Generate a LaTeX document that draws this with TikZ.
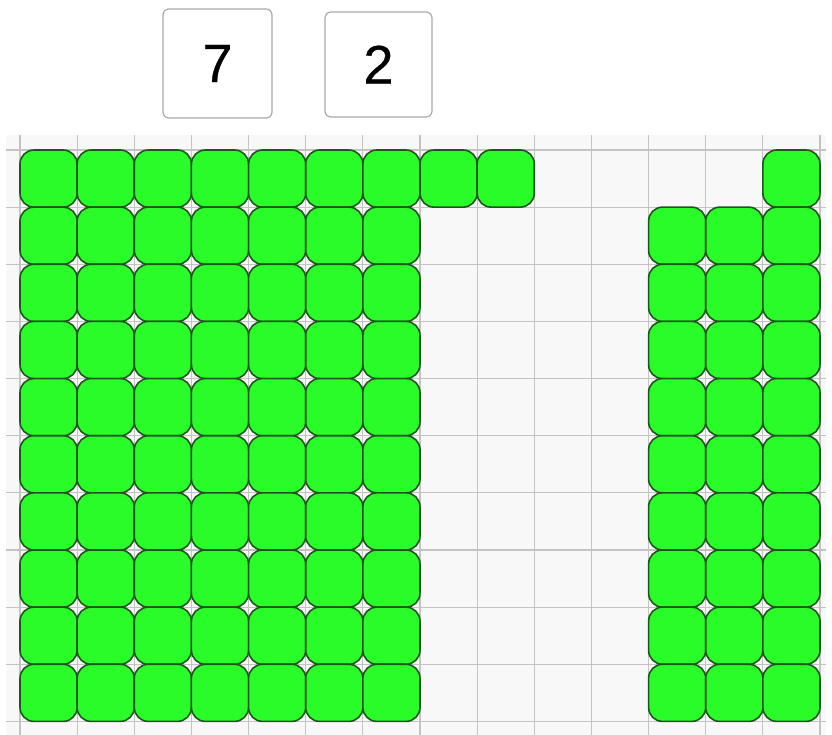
\documentclass[tikz,border=0pt]{standalone}
\usepackage{fontspec}
\setmainfont{Liberation Sans}
\definecolor{tilefill}{RGB}{42,252,42}
\definecolor{tileline}{RGB}{30,85,30}
\definecolor{gridbg}{RGB}{248,248,248}
\definecolor{gridline}{RGB}{195,195,195}
\definecolor{cardline}{RGB}{170,170,170}
\tikzset{
  tile/.style={fill=tilefill,draw=tileline,line width=1.6pt,rounded corners=14pt},
  card/.style={draw=cardline,fill=white,line width=1.2pt,rounded corners=6pt},
  cardnum/.style={font=\fontsize{54}{54}\selectfont,text=black}
}
\begin{document}
\begin{tikzpicture}[x=1pt,y=-1pt]
\useasboundingbox (0,0) rectangle (832,735);
\fill[white] (0,0) rectangle (832,735);
% grid background
\fill[gridbg] (6,135) rectangle (826,735);
\foreach \i in {0,...,14} {
  \draw[gridline,line width=1.2pt] ({20+57.142857*\i},135) -- ({20+57.142857*\i},735);
}
\foreach \j in {0,...,10} {
  \draw[gridline,line width=1.2pt] (6,{150+57.142857*\j}) -- (826,{150+57.142857*\j});
}
% top row: 9 tiles plus one on the right
\foreach \c in {0,...,8,13} {
  \draw[tile] ({20+57.142857*\c},150) rectangle ++(57.142857,57.142857);
}
% rows 1-9
\foreach \r in {1,...,9} {
  \foreach \c in {0,...,6,11,12,13} {
    \draw[tile] ({20+57.142857*\c},{150+57.142857*\r}) rectangle ++(57.142857,57.142857);
  }
}
% cards
\draw[card] (163,9) rectangle (272,118);
\node[cardnum] (seven) at (217.5,63.5) {\addfontfeatures{FakeBold=0.6}7};
\draw[card] (325,12) rectangle (432,117);
\node[cardnum] (two) at (378.5,64.5) {\addfontfeatures{FakeBold=0.6}2};
\end{tikzpicture}
\end{document}
